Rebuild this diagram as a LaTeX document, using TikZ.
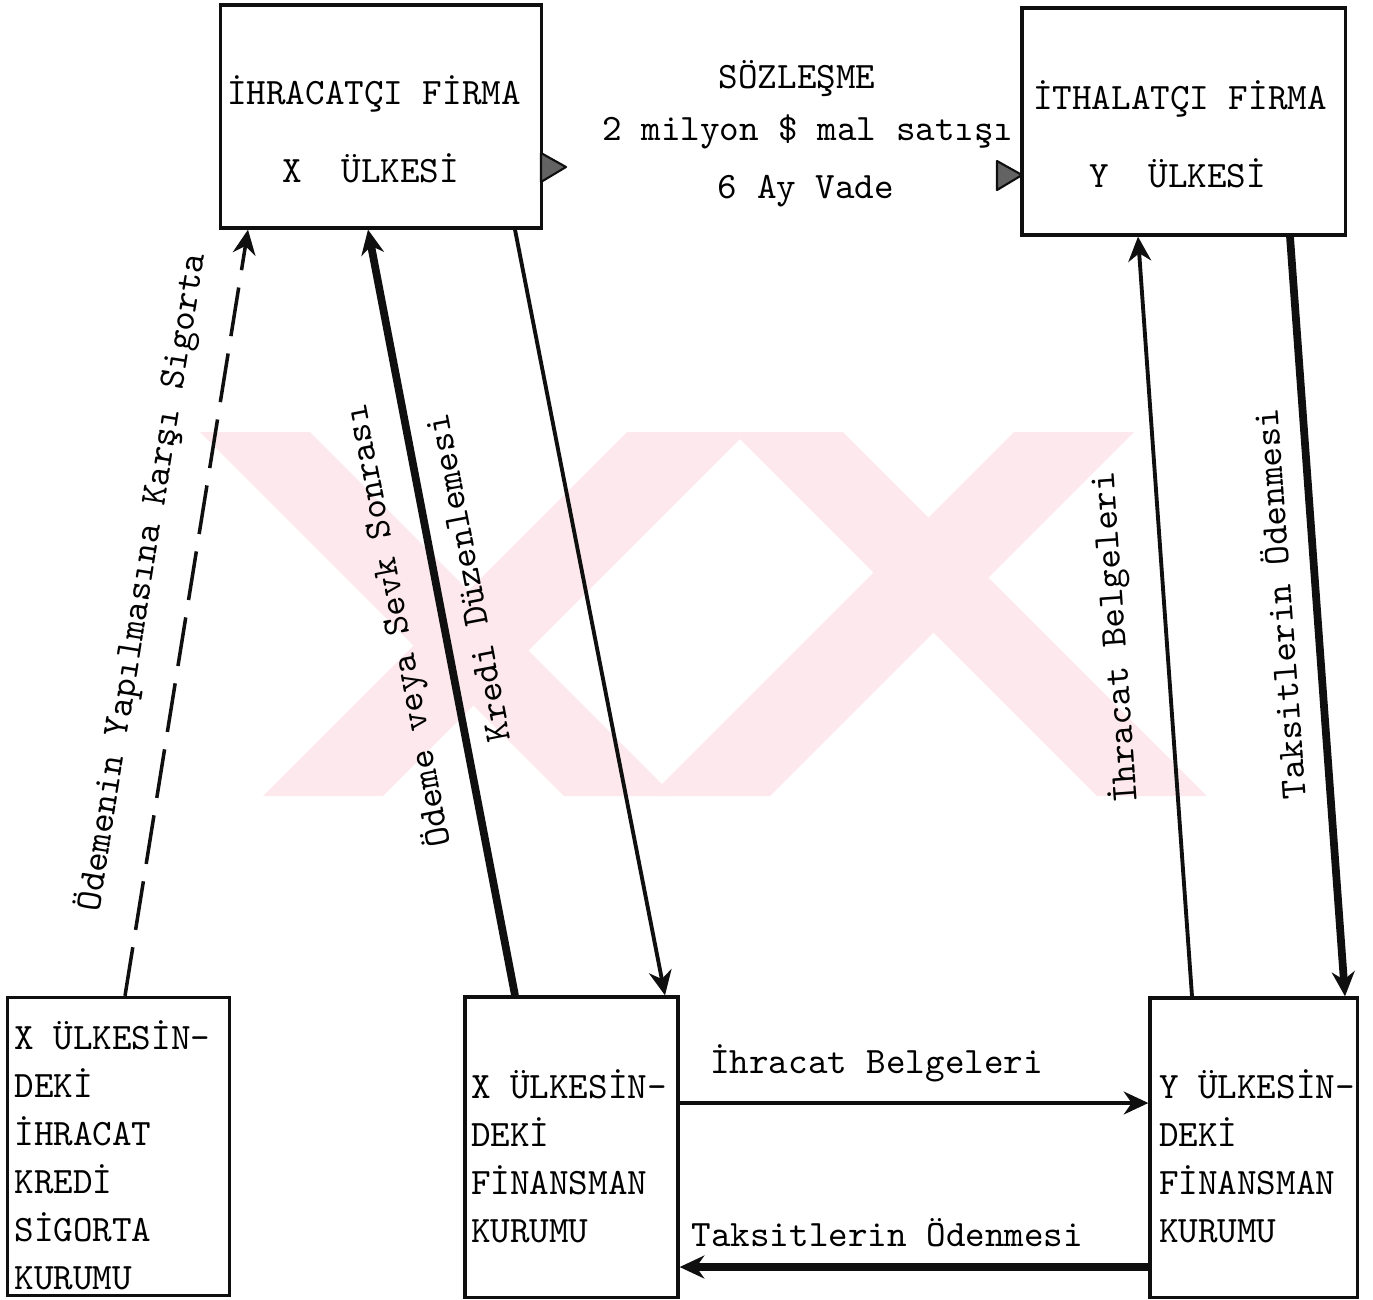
\documentclass[tikz,border=0pt]{standalone}
\usepackage{fontspec}
\usetikzlibrary{arrows.meta, calc}
\definecolor{inkcolor}{RGB}{15,15,15}
\definecolor{markcolor}{RGB}{253,233,237}
\tikzset{
  box/.style       = {draw=inkcolor, line width=0.9pt, inner sep=0pt},
  boxtext/.style   = {align=left, inner sep=0pt, anchor=west},
  thinline/.style  = {draw=inkcolor, line width=1.1pt},
  heavyline/.style = {draw=inkcolor, line width=2.2pt},
  dashline/.style  = {draw=inkcolor, line width=1pt, dash pattern=on 14pt off 5pt},
  tipend/.style    = {-{Stealth[length=7pt, width=6.5pt]}},
  tipstart/.style  = {{Stealth[length=7pt, width=6.5pt]}-},
  hatchtip/.style  = {draw=inkcolor, fill=inkcolor!65, line width=0.6pt, line join=round},
  wmark/.style     = {fill=markcolor},
}

\begin{document}
\begin{tikzpicture}[x=0.01cm, y=-0.01cm, every node/.style={font=\ttfamily\fontsize{10.6}{13.66}\selectfont}]
  \useasboundingbox (0,0) rectangle (1373,1299);

  % pale mark in the background
  \foreach \a/\b/\c/\d in {200/310/674/564, 733/843/1207/1097} {
    \fill[wmark] (\a,432) -- (\b,432) -- (\c,796) -- (\d,796) -- cycle;
  }
  \foreach \a/\b/\c/\d in {263/383/747/627, 650/770/1134/1014} {
    \fill[wmark] (\a,796) -- (\b,796) -- (\c,432) -- (\d,432) -- cycle;
  }

  % firms
  \node[box, minimum width=3.2cm, minimum height=2.23cm] (ihr) at (381,116.5) {};
  \node[box, minimum width=3.23cm, minimum height=2.27cm] (ith) at (1183.5,121.5) {};
  \node[anchor=base] (ihrA) at (374,104) {İHRACATÇI FİRMA};
  \node[anchor=base] (ihrB) at (371,182) {X~~ÜLKESİ};
  \node[anchor=base] (ithA) at (1180,109) {İTHALATÇI FİRMA};
  \node[anchor=base] (ithB) at (1178,187) {Y~~ÜLKESİ};

  % institutions
  \node[box, minimum width=2.22cm, minimum height=2.98cm] (xsig) at (118.5,1146.5) {};
  \node[box, minimum width=2.13cm, minimum height=3.0cm] (xfin) at (571.5,1147) {};
  \node[box, minimum width=2.07cm, minimum height=2.99cm] (yfin) at (1253.5,1147.5) {};
  \node[boxtext] (xsigT) at ($(xsig.west)+(8,9)$) {X ÜLKESİN-\\DEKİ\\İHRACAT\\KREDİ\\SİGORTA\\KURUMU};
  \node[boxtext] (xfinT) at ($(xfin.west)+(7,9)$) {X ÜLKESİN-\\DEKİ\\FİNANSMAN\\KURUMU};
  \node[boxtext] (yfinT) at ($(yfin.west)+(10,9)$) {Y ÜLKESİN-\\DEKİ\\FİNANSMAN\\KURUMU};

  % contract
  \foreach \n/\x/\y/\t in {dealA/797/88/SÖZLEŞME, dealB/808/140/2 milyon \$ mal satışı, dealC/806/198/6 Ay Vade} {
    \node[anchor=base] (\n) at (\x,\y) {\t};
  }
  \filldraw[hatchtip] (541,153) -- (566,167) -- (541,182) -- cycle;
  \filldraw[hatchtip] (997,161) -- (1022,175) -- (997,190) -- cycle;

  % left side
  \draw[dashline, tipend] (125,0 |- xsig.north) -- (248,0 |- ihr.south)
    node[pos=0.53, sloped, above=4.8pt] (lblSig) {Ödemenin Yapılmasına Karşı Sigorta};
  \draw[heavyline, tipend] (515,0 |- xfin.north) -- (368,0 |- ihr.south)
    node[pos=0.494, sloped, allow upside down, above=3.1pt] (lblPay) {Ödeme veya Sevk Sonrası}
    node[pos=0.537, sloped, allow upside down, below=1.7pt] (lblCred) {Kredi Düzenlemesi};
  \draw[thinline, tipend] (515,0 |- ihr.south) -- (665,0 |- xfin.north);

  % right side
  \draw[thinline, tipend] (1192,0 |- yfin.north) -- (1138,0 |- ith.south)
    node[pos=0.477, sloped, allow upside down, above=5.4pt] (lblDocs) {İhracat Belgeleri};
  \draw[heavyline, tipstart] (1345,0 |- yfin.north) -- (1290,0 |- ith.south)
    node[pos=0.52, sloped, allow upside down, above=2.5pt] (lblInst) {Taksitlerin Ödenmesi};

  % between the banks
  \draw[thinline, tipend] (xfin.east |- 0,1103) -- (yfin.west |- 0,1103)
    node[pos=0.42, above=2.2pt] (lblDocsB) {İhracat Belgeleri};
  \draw[heavyline, tipend] (yfin.west |- 0,1267) -- (xfin.east |- 0,1267)
    node[pos=0.557, above=1.3pt] (lblInstB) {Taksitlerin Ödenmesi};

\end{tikzpicture}
\end{document}
